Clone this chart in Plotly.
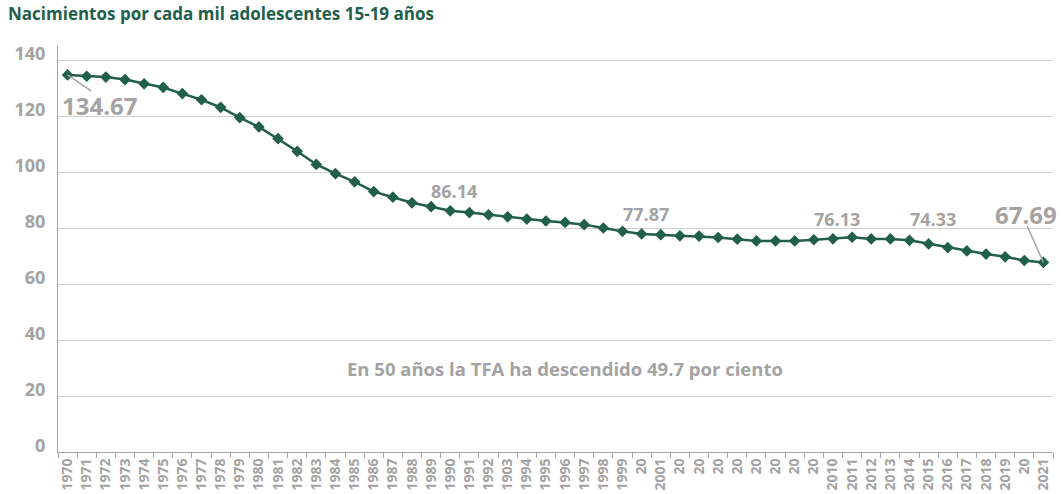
import plotly.graph_objects as go

tick_labels = ["1970", "1971", "1972", "1973", "1974", "1975", "1976", "1977", "1978", "1979",
               "1980", "1981", "1982", "1983", "1984", "1985", "1986", "1987", "1988", "1989",
               "1990", "1991", "1992", "1903", "1994", "1995", "1996", "1997", "1998", "1999",
               "20", "2001", "20", "20", "20", "20", "20", "20", "20", "20",
               "2010", "2011", "2012", "2013", "2014", "2015", "2016", "2017", "2018", "2019",
               "20", "2021"]

values = [134.67, 134.2, 133.9, 133.0, 131.5, 130.2, 128.0, 125.8, 123.1, 119.4,
          116.1, 111.9, 107.4, 102.7, 99.4, 96.5, 93.0, 91.0, 89.0, 87.6,
          86.14, 85.5, 84.7, 84.0, 83.2, 82.5, 82.0, 81.2, 80.0, 78.8,
          77.87, 77.6, 77.2, 77.1, 76.6, 76.0, 75.4, 75.4, 75.4, 75.8,
          76.13, 76.7, 76.1, 76.1, 75.6, 74.33, 73.0, 71.8, 70.7, 69.7,
          68.4, 67.69]

# indices of points carrying a plain value label (no leader line)
plain_labels = [20, 30, 40, 45]
label_lift = [20, 20, 20, 25]

title_text = "Nacimientos por cada mil adolescentes 15-19 años"
note_text = "En 50 años la TFA ha descendido 49.7 por ciento"

x_idx = list(range(len(values)))
GREEN = "#215e4c"
GRAY = "#a3a3a3"
FONT = "Open Sans"

fig = go.Figure()
fig.add_trace(go.Scatter(
    x=x_idx, y=values, mode="lines+markers",
    line=dict(color=GREEN, width=2.5),
    marker=dict(symbol="diamond", size=9, color=GREEN),
    showlegend=False, hoverinfo="skip", cliponaxis=False,
))

for i, lift in zip(plain_labels, label_lift):
    fig.add_annotation(x=x_idx[i], y=values[i], text=f"{values[i]:.2f}",
                       showarrow=False, xshift=4, yshift=lift,
                       font=dict(family=FONT, size=18, color=GRAY, weight="bold"))

# first point: leader line + big label
fig.add_annotation(x=x_idx[0], y=values[0], text="", showarrow=True, arrowhead=0,
                   arrowwidth=1.5, arrowcolor=GRAY, ax=25, ay=17, standoff=0, startstandoff=0)
fig.add_annotation(x=x_idx[0], y=values[0], text=f"{values[0]:.2f}", showarrow=False,
                   xshift=32, yshift=-31,
                   font=dict(family=FONT, size=24, color=GRAY, weight="bold"))
# last point: leader line + big label
fig.add_annotation(x=x_idx[-1], y=values[-1], text="", showarrow=True, arrowhead=0,
                   arrowwidth=1.5, arrowcolor=GRAY, ax=-17, ay=-38, standoff=0, startstandoff=0)
fig.add_annotation(x=x_idx[-1], y=values[-1], text=f"{values[-1]:.2f}", showarrow=False,
                   xshift=-17, yshift=48,
                   font=dict(family=FONT, size=24, color=GRAY, weight="bold"))

fig.add_annotation(x=26, y=30, text=note_text, showarrow=False,
                   font=dict(family=FONT, size=18.5, color=GRAY, weight="bold"))

fig.update_layout(
    width=1061, height=494,
    margin=dict(l=58, r=8, t=46, b=42, autoexpand=False),
    paper_bgcolor="white", plot_bgcolor="white",
    title=dict(text=title_text, x=0, xanchor="left", xref="container",
               y=1 - 14 / 494, yanchor="middle", yref="container",
               pad=dict(l=8, r=0, t=0, b=0),
               font=dict(family=FONT, size=17, color=GREEN, weight="bold")),
    xaxis=dict(
        range=[-0.5, len(values) - 0.5], automargin=False,
        tickmode="array", tickvals=x_idx, ticktext=tick_labels,
        tickangle=-90, ticks="", showgrid=False, zeroline=False,
        showline=True, linecolor="#a6a6a6", linewidth=1,
        tickfont=dict(family=FONT, size=14, color=GRAY, weight="bold"),
        minor=dict(tick0=-0.5, dtick=1, ticks="outside", ticklen=5,
                   tickcolor="#a6a6a6", showgrid=False),
    ),
    yaxis=dict(
        range=[0, 145], automargin=False,
        tickmode="array", tickvals=[0, 20, 40, 60, 80, 100, 120, 140],
        showgrid=True, gridcolor="#d0d0d0", gridwidth=1, zeroline=False,
        showline=True, linecolor="#a6a6a6", linewidth=1,
        ticks="", ticklabelstandoff=8, ticklabelshift=-6,
        tickfont=dict(family=FONT, size=18, color=GRAY, weight="bold"),
    ),
)

fig.write_html("out.html", config={"displayModeBar": False},
               post_script="document.body.style.margin='0';document.body.style.overflow='hidden';")
